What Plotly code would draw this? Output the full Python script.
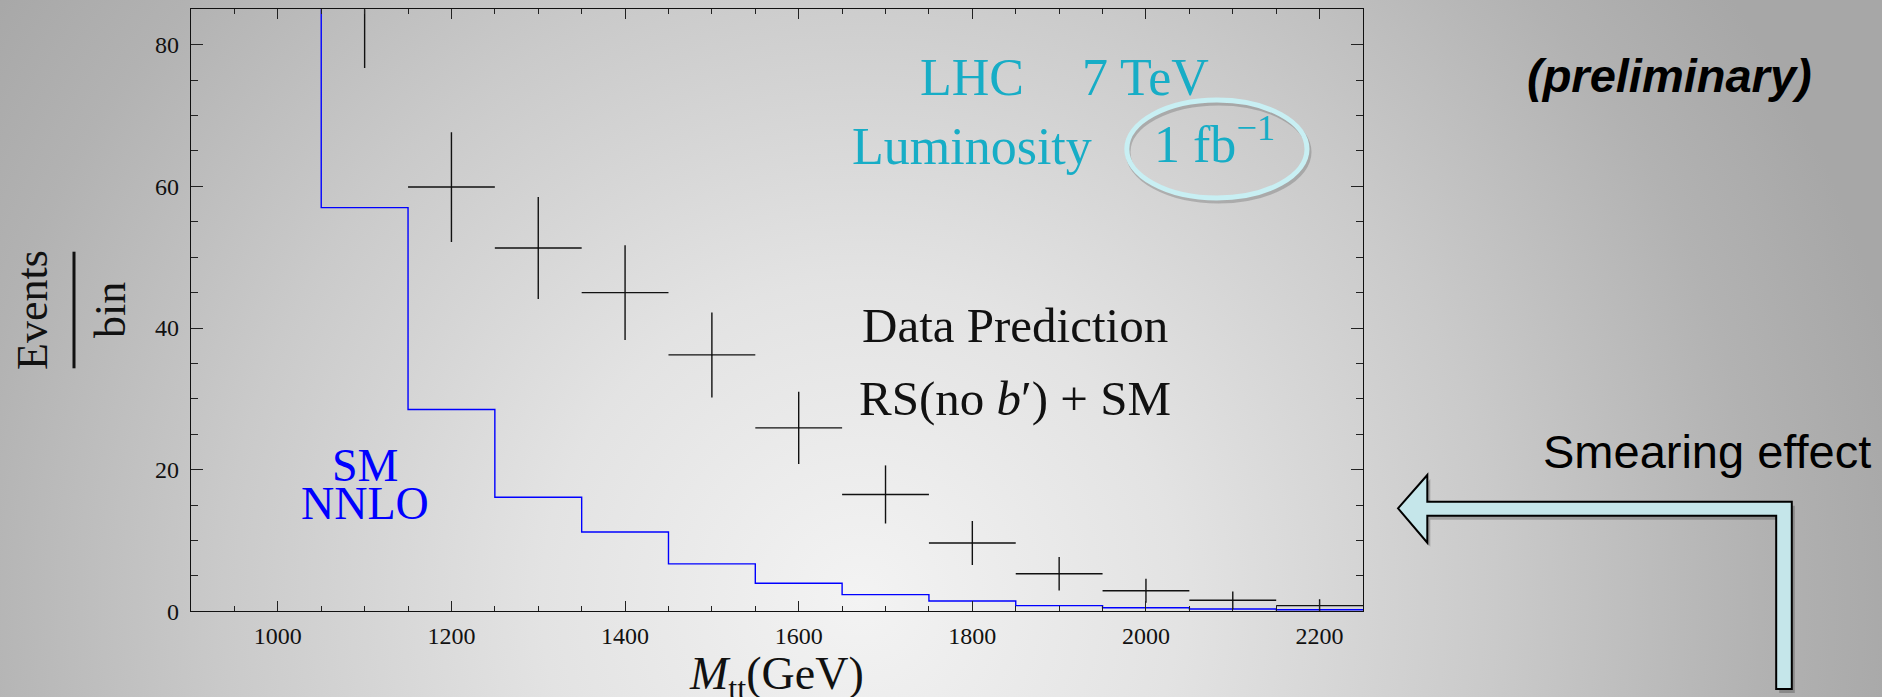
import base64
import plotly.graph_objects as go

W, H = 1882, 697

# ---------------- data ----------------
sm_bin_left = [950, 1050, 1150, 1250, 1350, 1450, 1550, 1650, 1750, 1850, 1950, 2050, 2150]
sm_values = [115, 57.0, 28.5, 16.1, 11.2, 6.7, 3.95, 2.35, 1.45, 0.8, 0.5, 0.32, 0.22]
sm_last_edge = 2250

data_mass = [1100, 1200, 1300, 1400, 1500, 1600, 1700, 1800, 1900, 2000, 2100, 2200]
data_events = [86.0, 59.9, 51.3, 45.0, 36.2, 25.9, 16.5, 9.65, 5.3, 2.9, 1.55, 0.8]
data_err = [9.3, 7.75, 7.2, 6.7, 6.0, 5.1, 4.1, 3.1, 2.35, 1.7, 1.25, 0.9]
data_halfwidth = [50] * len(data_mass)

x_range = [900, 2250]
y_range = [0, 85]

SERIF = "Liberation Serif"
SANS = "Liberation Sans"
CYAN = "#17adc6"


def px(x):
    return x / W


def py(y):
    return 1 - y / H


# ---------------- background gradient ----------------
svg = f'''<svg xmlns="http://www.w3.org/2000/svg" width="{W}" height="{H}" viewBox="0 0 {W} {H}" preserveAspectRatio="none">
<defs><radialGradient id="g" gradientUnits="userSpaceOnUse" cx="860" cy="600" r="1060">
<stop offset="0" stop-color="#f3f3f3"/>
<stop offset="0.3" stop-color="#e3e3e3"/>
<stop offset="0.6" stop-color="#cacaca"/>
<stop offset="0.85" stop-color="#b2b2b2"/>
<stop offset="1" stop-color="#a7a7a7"/>
</radialGradient></defs>
<rect x="0" y="0" width="{W}" height="{H}" fill="url(#g)"/></svg>'''
bg_src = "data:image/svg+xml;base64," + base64.b64encode(svg.encode()).decode()

fig = go.Figure()

# SM NNLO step histogram
fig.add_trace(go.Scatter(
    x=sm_bin_left + [sm_last_edge],
    y=sm_values + [sm_values[-1]],
    mode="lines",
    line=dict(color="#0000ff", width=1.4, shape="hv"),
    hoverinfo="skip",
    showlegend=False,
))

# Data prediction crosses
fig.add_trace(go.Scatter(
    x=data_mass,
    y=data_events,
    mode="markers",
    marker=dict(size=1, color="#111"),
    error_x=dict(type="data", array=data_halfwidth, width=0, thickness=1.4, color="#111"),
    error_y=dict(type="data", array=data_err, width=0, thickness=1.4, color="#111"),
    showlegend=False,
))

axis_common = dict(
    showgrid=False, zeroline=False, showline=True, linecolor="#111", linewidth=1.3,
    mirror="ticks", ticks="inside", tickcolor="#222", tickwidth=1.2, automargin=False,
    tickfont=dict(family=SERIF, size=24, color="#111"),
)

fig.update_xaxes(
    range=x_range, domain=[191 / W, 1363 / W], tickmode="linear", tick0=0, dtick=200,
    ticklen=10, ticklabelstandoff=3,
    minor=dict(dtick=50, tick0=0, ticklen=5, ticks="inside", tickcolor="#222", tickwidth=1.2),
    **axis_common,
)
fig.update_yaxes(
    range=y_range, domain=[1 - 611.3 / H, 1 - 9.3 / H], tickmode="linear", tick0=0, dtick=20,
    ticklen=12, ticklabelstandoff=6,
    minor=dict(dtick=5, tick0=0, ticklen=7, ticks="inside", tickcolor="#222", tickwidth=1.2),
    **axis_common,
)

annotations = []


def add_text(text, x, y, size, color="#111", family=SERIF, angle=0):
    annotations.append(dict(
        text=text, x=px(x), y=py(y), xref="paper", yref="paper",
        xanchor="center", yanchor="middle", showarrow=False, textangle=angle,
        font=dict(family=family, size=size, color=color),
    ))


add_text("LHC", 972, 77.5, 52, CYAN)
add_text("7 TeV", 1145, 77.5, 52, CYAN)
add_text("Luminosity", 972, 146.3, 52, CYAN)
add_text("1 fb<sup>\u22121</sup>", 1214, 141, 52, CYAN)
add_text("Data Prediction", 1015, 325.5, 49)
add_text("RS(no <i>b</i>\u2032) + SM", 1015, 398, 49)
add_text("SM", 365, 465.5, 46, "#0000ff")
add_text("NNLO", 365, 503.5, 46, "#0000ff")
add_text("<i>M</i><sub>tt</sub>(GeV)", 776, 677, 46)
add_text("Events", 32, 310, 44, angle=-90)
add_text("bin", 110, 310, 44, angle=-90)
add_text("<b><i>(preliminary)</i></b>", 1669.5, 75, 47, "#000", SANS)
add_text("Smearing effect", 1707, 451.7, 47, "#000", SANS)

shapes = []

# fraction bar of y title
shapes.append(dict(type="line", xref="paper", yref="paper",
                   x0=px(74), x1=px(74), y0=py(251.7), y1=py(368.3),
                   line=dict(color="#111", width=3)))

# ellipse around 1 fb^-1 (shadow + ring)
shapes.append(dict(type="circle", xref="paper", yref="paper",
                   x0=px(1128), x1=px(1309), y0=py(201), y1=py(103),
                   line=dict(color="rgba(60,60,60,0.25)", width=5)))
shapes.append(dict(type="circle", xref="paper", yref="paper",
                   x0=px(1126.8), x1=px(1307), y0=py(198), y1=py(100),
                   line=dict(color="#c8eff3", width=5)))

# bent arrow
arrow_pts = [(1398, 508.3), (1427.3, 475), (1427.3, 501.7), (1791.8, 501.7),
             (1791.8, 689), (1776.2, 689), (1776.2, 515.7), (1427.3, 515.7),
             (1427.3, 542.7)]


def path_from(pts, dx=0, dy=0):
    s = "M " + " L ".join(f"{px(x + dx):.5f},{py(y + dy):.5f}" for x, y in pts) + " Z"
    return s


shapes.append(dict(type="path", xref="paper", yref="paper", path=path_from(arrow_pts, 3, 4),
                   fillcolor="rgba(0,0,0,0.22)", line=dict(width=0)))
shapes.append(dict(type="path", xref="paper", yref="paper", path=path_from(arrow_pts),
                   fillcolor="#c5e6ea", line=dict(color="#000", width=2)))

fig.update_layout(
    width=W, height=H,
    autosize=False,
    margin=dict(l=0, r=0, t=0, b=0, pad=0, autoexpand=False),
    paper_bgcolor="#ececec",
    plot_bgcolor="rgba(0,0,0,0)",
    images=[dict(source=bg_src, xref="paper", yref="paper", x=0, y=1, sizex=1, sizey=1,
                 xanchor="left", yanchor="top", sizing="stretch", layer="below")],
    annotations=annotations,
    shapes=shapes,
    showlegend=False,
)

fig.write_html(
    "out.html",
    config={"responsive": False, "displayModeBar": False},
    default_width=f"{W}px",
    default_height=f"{H}px",
    post_script=(
        "document.documentElement.style.margin='0';"
        "document.documentElement.style.overflow='hidden';"
        "document.body.style.margin='0';"
        "document.body.style.overflow='hidden';"
    ),
)
